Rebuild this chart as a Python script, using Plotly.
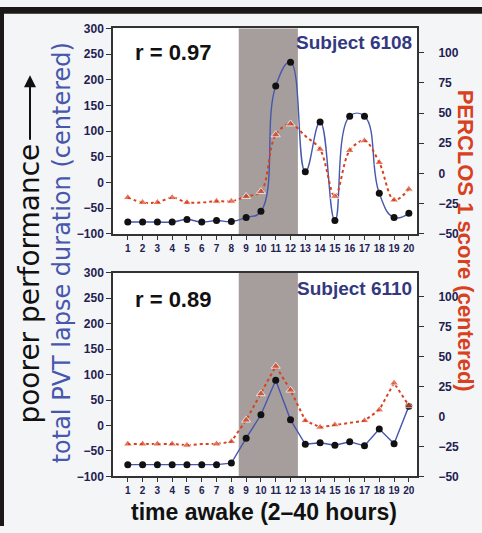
import plotly.graph_objects as go

W, H = 482, 533

hours = list(range(1, 21))
tick_labels = [str(h) for h in hours]
left_ticks = [-100, -50, 0, 50, 100, 150, 200, 250, 300]
right_ticks = [-50, -25, 0, 25, 50, 75, 100]

pvt_6108 = [-77, -77, -77, -77, -72, -77, -74, -76, -68, -56, 188, 234, 21, 118, -74, 129, 129, -21, -68, -60]
perclos_6108 = [-20, -24, -24, -20, -24, -24, -23, -23, -19, -15, 32, 41, 31, 20, -19, 19, 27, 9, -22, -13]
pvt_6110 = [-77, -77, -77, -77, -77, -77, -77, -74, -25, 21, 89, 11, -37, -34, -39, -32, -40, -7, -36, 38]
perclos_6110 = [-23, -23, -23, -23, -24, -23, -23, -21, -3, 19, 42, 22, -3.5, -9, -7, -5, -3.5, 5.5, 28, 9]

shade_start, shade_end = 8.5, 12.5

BLUE = "#4657ad"
RED = "#d8401e"
NAVY = "#1f2152"
DOT = "#111111"
FONT = "Liberation Sans, Arial, sans-serif"
WIDE = "DejaVu Sans, sans-serif"


def px(x):
    return x / W


def py(y):
    return 1 - y / H


def tri_sizes(n, missing):
    return [0 if (i + 1) in missing else 8 for i in range(n)]


fig = go.Figure()

# top panel
fig.add_trace(go.Scatter(x=hours, y=pvt_6108, mode="lines+markers",
                         line=dict(color=BLUE, width=1.4, shape="spline", smoothing=1.3),
                         marker=dict(color=DOT, size=7), xaxis="x", yaxis="y"))
fig.add_trace(go.Scatter(x=hours, y=perclos_6108, mode="lines+markers",
                         line=dict(color=RED, width=2, dash="dot", shape="spline", smoothing=1.0),
                         marker=dict(color=RED, size=tri_sizes(20, {6, 13}), symbol="triangle-up"),
                         xaxis="x", yaxis="y2"))
# bottom panel
fig.add_trace(go.Scatter(x=hours, y=pvt_6110, mode="lines+markers",
                         line=dict(color=BLUE, width=1.4),
                         marker=dict(color=DOT, size=7), xaxis="x2", yaxis="y3"))
fig.add_trace(go.Scatter(x=hours, y=perclos_6110, mode="lines+markers",
                         line=dict(color=RED, width=2, dash="dot"),
                         marker=dict(color=RED, size=tri_sizes(20, {6, 16}), symbol="triangle-up"),
                         xaxis="x2", yaxis="y4"))

xdom = [px(113), px(417)]
top_dom = [py(233), py(22)]
bot_dom = [py(482), py(273)]

xax = dict(range=[0, 20.55], tickvals=hours, ticktext=tick_labels, ticks="outside", ticklen=4,
           tickcolor="#333", showline=True, linecolor="#333", linewidth=1.5, mirror=True,
           showgrid=False, zeroline=False, domain=xdom,
           tickfont=dict(family=FONT, size=10, color=NAVY, weight="bold"))
lax = dict(range=[-100, 300], tickvals=left_ticks, ticks="outside", ticklen=5, tickcolor="#333",
           showline=True, linecolor="#333", linewidth=1.5, mirror=True, showgrid=False,
           zeroline=False, tickfont=dict(family=FONT, size=12, color=NAVY, weight="bold"))
rax = dict(range=[-50, 120], tickvals=right_ticks, ticks="outside", ticklen=6, tickcolor="#333",
           showline=False, showgrid=False, zeroline=False, side="right",
           ticklabelstandoff=12,
           tickfont=dict(family=FONT, size=12, color=NAVY, weight="bold"))

fig.update_layout(
    width=W, height=H, margin=dict(l=0, r=0, t=0, b=0),
    paper_bgcolor="#f3f5f6", plot_bgcolor="#ffffff", showlegend=False,
    xaxis=dict(xax, anchor="y"),
    xaxis2=dict(xax, anchor="y3"),
    yaxis=dict(lax, domain=top_dom, anchor="x"),
    yaxis2=dict(rax, domain=top_dom, anchor="x", overlaying="y"),
    yaxis3=dict(lax, domain=bot_dom, anchor="x2"),
    yaxis4=dict(rax, domain=bot_dom, anchor="x2", overlaying="y3"),
)

shapes = []
for xr, yr in [("x", "y domain"), ("x2", "y3 domain")]:
    shapes.append(dict(type="rect", xref=xr, yref=yr, x0=shade_start, x1=shade_end, y0=0, y1=1,
                       fillcolor="#a69e9c", line=dict(width=0), layer="below"))
# black frame (top and left edges of the picture)
shapes.append(dict(type="rect", xref="paper", yref="paper", x0=0, x1=1, y0=py(7), y1=1,
                   fillcolor="#1c1817", line=dict(width=0)))
shapes.append(dict(type="rect", xref="paper", yref="paper", x0=0, x1=px(4), y0=0, y1=1,
                   fillcolor="#1c1817", line=dict(width=0)))
fig.update_layout(shapes=shapes)

ann = []
ann.append(dict(text="r = 0.97", x=px(133), y=py(47), xanchor="left", yanchor="middle",
                font=dict(family=FONT, size=22, color="#111", weight="bold")))
ann.append(dict(text="r = 0.89", x=px(133), y=py(300), xanchor="left", yanchor="middle",
                font=dict(family=FONT, size=22, color="#111", weight="bold")))
ann.append(dict(text="Subject 6108", x=px(414), y=py(36), xanchor="right", yanchor="middle",
                font=dict(family=FONT, size=19, color="#34397f", weight="bold")))
ann.append(dict(text="Subject 6110", x=px(414), y=py(289), xanchor="right", yanchor="middle",
                font=dict(family=FONT, size=19, color="#34397f", weight="bold")))
ann.append(dict(text="poorer performance", x=px(30), y=py(284), textangle=-90,
                xanchor="center", yanchor="middle",
                font=dict(family=WIDE, size=28, color="#111")))
ann.append(dict(text="", x=px(30), y=py(70), ax=0, ay=66, showarrow=True,
                arrowhead=2, arrowsize=1.2, arrowwidth=2, arrowcolor="#111"))
ann.append(dict(text="total PVT lapse duration (centered)", x=px(62), y=py(253), textangle=-90,
                xanchor="center", yanchor="middle",
                font=dict(family=WIDE, size=24, color=BLUE)))
ann.append(dict(text="PERCLOS 1 score (centered)", x=px(465), y=py(240), textangle=90,
                xanchor="center", yanchor="middle",
                font=dict(family=FONT, size=22, color=RED, weight="bold")))
ann.append(dict(text="time awake (2\u201340 hours)", x=px(264), y=py(519),
                xanchor="center", yanchor="middle",
                font=dict(family=FONT, size=23, color="#111", weight="bold")))
for a in ann:
    a.setdefault("showarrow", False)
    a["xref"] = "paper"
    a["yref"] = "paper"
fig.update_layout(annotations=ann)

page_fix = (
    "document.documentElement.style.margin='0';"
    "document.body.style.margin='0';"
    "document.body.style.overflow='hidden';"
    "var d=document.getElementById('{plot_id}');"
    "d.style.position='fixed';d.style.left='0px';d.style.top='0px';"
    "window.scrollTo(0,0);"
)
fig.write_html("out.html", config={"displayModeBar": False}, post_script=page_fix)
